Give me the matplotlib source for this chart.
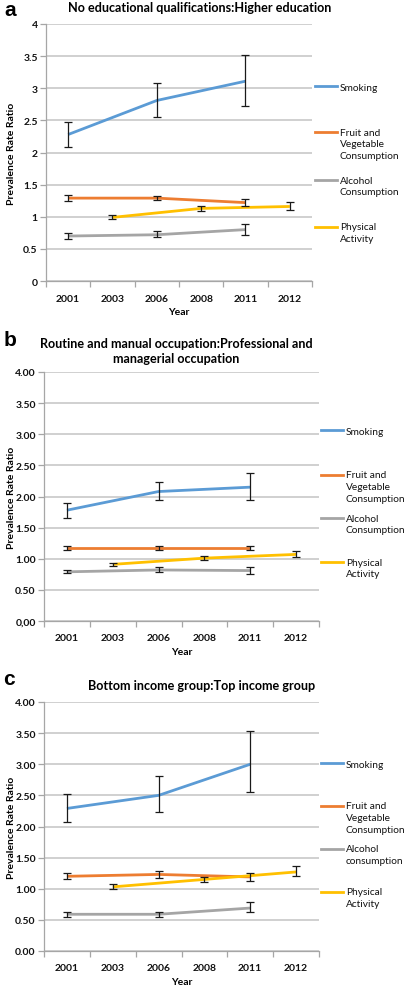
import matplotlib
matplotlib.use("Agg")
import matplotlib.pyplot as plt
from matplotlib.lines import Line2D
from matplotlib.legend import Legend

plt.rcParams['font.family'] = ['Lato', 'DejaVu Sans']

years = ['2001', '2003', '2006', '2008', '2011', '2012']
series_names = ['Smoking', 'Fruit and Vegetable Consumption', 'Alcohol Consumption', 'Physical Activity']
colors = ['#5B9BD5', '#ED7D31', '#A5A5A5', '#FFC000']

# Panel a: No educational qualifications : Higher education
a_smoking = [2.28, None, 2.81, None, 3.11, None]
a_smoking_lo = [2.09, None, 2.56, None, 2.73, None]
a_smoking_hi = [2.48, None, 3.08, None, 3.51, None]
a_fruit = [1.29, None, 1.29, None, 1.22, None]
a_fruit_lo = [1.25, None, 1.26, None, 1.17, None]
a_fruit_hi = [1.34, None, 1.33, None, 1.27, None]
a_alcohol = [0.70, None, 0.72, None, 0.80, None]
a_alcohol_lo = [0.65, None, 0.68, None, 0.71, None]
a_alcohol_hi = [0.75, None, 0.78, None, 0.89, None]
a_pa = [None, 0.99, None, 1.13, None, 1.16]
a_pa_lo = [None, 0.96, None, 1.09, None, 1.10]
a_pa_hi = [None, 1.02, None, 1.17, None, 1.23]

# Panel b: Routine and manual : Professional and managerial
b_smoking = [1.78, None, 2.08, None, 2.15, None]
b_smoking_lo = [1.65, None, 1.94, None, 1.94, None]
b_smoking_hi = [1.90, None, 2.24, None, 2.38, None]
b_fruit = [1.17, None, 1.17, None, 1.17, None]
b_fruit_lo = [1.14, None, 1.14, None, 1.14, None]
b_fruit_hi = [1.21, None, 1.21, None, 1.21, None]
b_alcohol = [0.79, None, 0.82, None, 0.81, None]
b_alcohol_lo = [0.77, None, 0.79, None, 0.76, None]
b_alcohol_hi = [0.82, None, 0.86, None, 0.87, None]
b_pa = [None, 0.91, None, 1.01, None, 1.07]
b_pa_lo = [None, 0.89, None, 0.98, None, 1.03]
b_pa_hi = [None, 0.93, None, 1.04, None, 1.12]

# Panel c: Bottom income group : Top income group
c_smoking = [2.29, None, 2.50, None, 3.00, None]
c_smoking_lo = [2.08, None, 2.23, None, 2.55, None]
c_smoking_hi = [2.52, None, 2.81, None, 3.53, None]
c_fruit = [1.20, None, 1.23, None, 1.19, None]
c_fruit_lo = [1.15, None, 1.18, None, 1.13, None]
c_fruit_hi = [1.25, None, 1.29, None, 1.25, None]
c_alcohol = [0.59, None, 0.59, None, 0.69, None]
c_alcohol_lo = [0.55, None, 0.55, None, 0.62, None]
c_alcohol_hi = [0.63, None, 0.63, None, 0.78, None]
c_pa = [None, 1.03, None, 1.15, None, 1.27]
c_pa_lo = [None, 1.00, None, 1.11, None, 1.20]
c_pa_hi = [None, 1.08, None, 1.19, None, 1.37]

a_title = 'No educational qualifications:Higher education'
b_title = 'Routine and manual occupation:Professional and\nmanagerial occupation'
c_title = 'Bottom income group:Top income group'

a_yticklabels = ['0', '0.5', '1', '1.5', '2', '2.5', '3', '3.5', '4']
b_yticklabels = ['0,00', '0.50', '1.00', '1.50', '2.00', '2.50', '3.00', '3.50', '4.00']
c_yticklabels = ['0.00', '0.50', '1.00', '1.50', '2.00', '2.50', '3.00', '3.50', '4.00']
yticks = [0, 0.5, 1, 1.5, 2, 2.5, 3, 3.5, 4]

a_legend = ['Smoking', 'Fruit and\nVegetable\nConsumption', 'Alcohol\nConsumption', 'Physical\nActivity']
b_legend = ['Smoking', 'Fruit and\nVegetable\nConsumption', 'Alcohol\nConsumption', 'Physical\nActivity']
c_legend = ['Smoking', 'Fruit and\nVegetable\nConsumption', 'Alcohol\nconsumption', 'Physical\nActivity']

W, H = 408, 987
fig = plt.figure(figsize=(W / 100, H / 100), dpi=100)


def px_axes(left, top, right, bottom):
    return fig.add_axes([left / W, 1 - bottom / H, (right - left) / W, (bottom - top) / H])


def draw_panel(ax, data, yticklabels, legend_labels, legend_x, legend_ys, axh, axw, left):
    xs = list(range(len(years)))
    for (vals, lo, hi), col in zip(data, colors):
        idx = [i for i, v in enumerate(vals) if v is not None]
        xv = [xs[i] for i in idx]
        yv = [vals[i] for i in idx]
        ax.plot(xv, yv, color=col, lw=2.0, solid_capstyle='butt', zorder=3)
    for (vals, lo, hi), col in zip(data, colors):
        idx = [i for i, v in enumerate(vals) if v is not None]
        xv = [xs[i] for i in idx]
        yv = [vals[i] for i in idx]
        lo_e = [vals[i] - lo[i] for i in idx]
        hi_e = [hi[i] - vals[i] for i in idx]
        ax.errorbar(xv, yv, yerr=[lo_e, hi_e], fmt='none', ecolor='#1a1a1a',
                    elinewidth=0.9, capsize=2.6, capthick=0.9, zorder=4)
    ax.set_xlim(-0.5, len(years) - 0.5)
    ax.set_ylim(0, 4)
    ax.set_yticks(yticks)
    ax.set_yticklabels(yticklabels)
    ax.set_xticks(xs)
    ax.set_xticklabels(years)
    ax.set_xticks([x - 0.5 for x in xs] + [len(years) - 0.5], minor=True)
    ax.tick_params(axis='x', which='major', length=0, pad=9)
    ax.tick_params(axis='x', which='minor', length=4, color='#A6A6A6', width=0.9)
    ax.tick_params(axis='y', length=4, color='#A6A6A6', width=0.9, pad=2)
    for lab in ax.get_xticklabels() + ax.get_yticklabels():
        lab.set_fontsize(7.5)
        lab.set_fontweight('bold')
        lab.set_color('#111111')
    ax.yaxis.grid(True, color='#C4C4C4', lw=1.1)
    ax.set_axisbelow(True)
    for s in ['top', 'right']:
        ax.spines[s].set_visible(False)
    ax.spines['left'].set_color('#A6A6A6')
    ax.spines['bottom'].set_color('#A6A6A6')
    ax.spines['left'].set_linewidth(0.9)
    ax.spines['bottom'].set_linewidth(0.9)
    ax.set_xlabel('Year', fontsize=7.5, fontweight='bold')
    ax.xaxis.set_label_coords(0.5, -26 / axh)
    ax.set_ylabel('Prevalence Rate Ratio', fontsize=7.5, fontweight='bold')
    ax.yaxis.set_label_coords(-(left - 16) / axw, 0.5)
    # legend: one entry per slot, handle aligned with first line of text
    for lab, col, ly in zip(legend_labels, colors, legend_ys):
        n = lab.count('\n')
        padded = '\n' * n + lab
        h = Line2D([], [], color=col, lw=2.0)
        lg = Legend(ax, [h], [padded], loc='center left',
                    bbox_to_anchor=(legend_x / W, 1 - ly / H),
                    bbox_transform=fig.transFigure, frameon=False,
                    fontsize=7.3, handlelength=2.2, handletextpad=0.25,
                    borderpad=0, borderaxespad=0)
        for t in lg.get_texts():
            t.set_linespacing(1.38)
            t.set_color('#111111')
        ax.add_artist(lg)


# Panel a
ax_a = px_axes(46, 25, 312, 282)
draw_panel(ax_a,
           [(a_smoking, a_smoking_lo, a_smoking_hi), (a_fruit, a_fruit_lo, a_fruit_hi),
            (a_alcohol, a_alcohol_lo, a_alcohol_hi), (a_pa, a_pa_lo, a_pa_hi)],
           a_yticklabels, a_legend, 315, [88, 133, 181, 228], 257, 266, 46)
fig.text(200 / W, 1 - 8 / H, a_title, ha='center', va='center', fontsize=9.1, fontweight='bold')
fig.text(10 / W, 1 - 10 / H, 'a', ha='center', va='center', fontsize=15, fontweight='bold',
         family=['Liberation Sans', 'DejaVu Sans'])

# Panel b
ax_b = px_axes(44, 373, 319, 622)
draw_panel(ax_b,
           [(b_smoking, b_smoking_lo, b_smoking_hi), (b_fruit, b_fruit_lo, b_fruit_hi),
            (b_alcohol, b_alcohol_lo, b_alcohol_hi), (b_pa, b_pa_lo, b_pa_hi)],
           b_yticklabels, b_legend, 321, [432, 476, 519, 563], 249, 275, 44)
fig.text(176 / W, 1 - 351.5 / H, b_title, ha='center', va='center', fontsize=9.1, fontweight='bold',
         linespacing=1.3)
fig.text(10 / W, 1 - 341 / H, 'b', ha='center', va='center', fontsize=15, fontweight='bold',
         family=['Liberation Sans', 'DejaVu Sans'])

# Panel c
ax_c = px_axes(44, 703, 319, 952)
draw_panel(ax_c,
           [(c_smoking, c_smoking_lo, c_smoking_hi), (c_fruit, c_fruit_lo, c_fruit_hi),
            (c_alcohol, c_alcohol_lo, c_alcohol_hi), (c_pa, c_pa_lo, c_pa_hi)],
           c_yticklabels, c_legend, 321, [765, 807, 850, 893], 249, 275, 44)
fig.text(202 / W, 1 - 686 / H, c_title, ha='center', va='center', fontsize=9.1, fontweight='bold')
fig.text(9 / W, 1 - 680 / H, 'c', ha='center', va='center', fontsize=15, fontweight='bold',
         family=['Liberation Sans', 'DejaVu Sans'])

fig.savefig('out.png', dpi=100)
